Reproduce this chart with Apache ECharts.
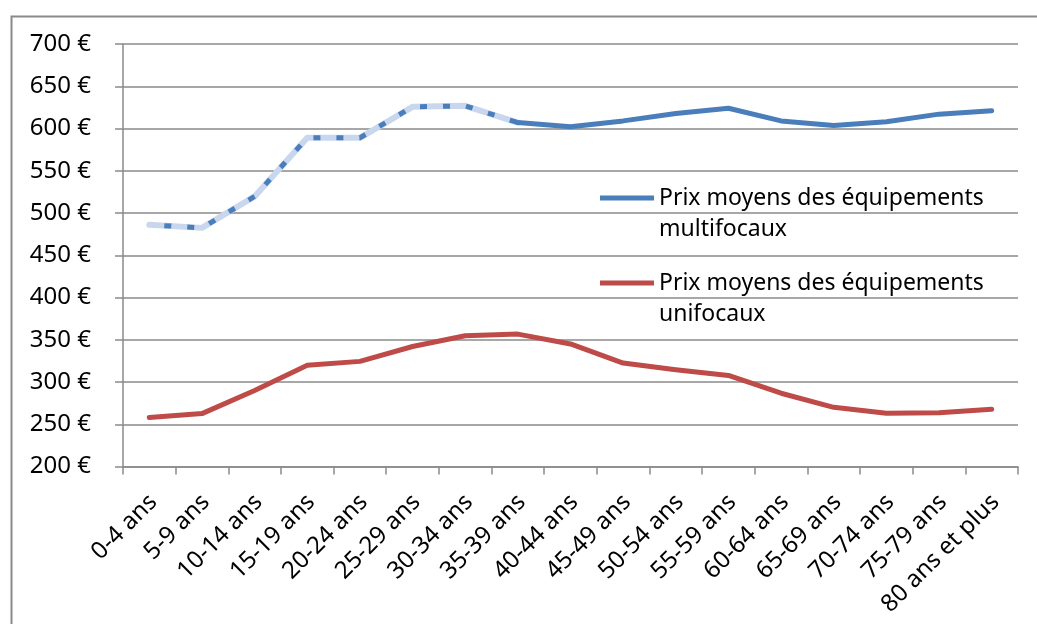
<!DOCTYPE html>
<html>
<head>
<meta charset="utf-8">
<script src="https://cdn.jsdelivr.net/npm/echarts@6/dist/echarts.min.js"></script>
<style>
html,body{margin:0;padding:0;background:#fff;}
#chart{width:1037px;height:624px;}
</style>
</head>
<body>
<div id="chart"></div>
<script>
const categories = ['0-4 ans','5-9 ans','10-14 ans','15-19 ans','20-24 ans','25-29 ans','30-34 ans','35-39 ans','40-44 ans','45-49 ans','50-54 ans','55-59 ans','60-64 ans','65-69 ans','70-74 ans','75-79 ans','80 ans et plus'];
const multifocaux = [486, 482.4, 519.6, 589, 589, 625.6, 626.8, 607, 602, 609, 617.7, 624, 609, 603.5, 608, 617, 621];
const unifocaux = [258, 262.6, 290, 319.7, 324.4, 342, 354.7, 356.7, 345, 322.4, 314.5, 307.8, 286.7, 270, 263, 263.7, 267.8];
const yTicks = [200, 250, 300, 350, 400, 450, 500, 550, 600, 650, 700];
const NAME_MULTI = 'Prix moyens des équipements multifocaux';
const NAME_UNI = 'Prix moyens des équipements unifocaux';
const dashedEnd = 7; // last index of the light/dashed part

const FONT = 'Noto Sans';
const firstPart = multifocaux.map((v, i) => i <= dashedEnd ? v : '-');
const secondPart = multifocaux.map((v, i) => i >= dashedEnd ? v : '-');

const chart = echarts.init(document.getElementById('chart'), null, {renderer: 'canvas'});

function legendCfg(name, top) {
  return {
    data: [name],
    left: 600,
    top: top,
    orient: 'vertical',
    padding: 0,
    itemWidth: 54,
    itemHeight: 5,
    icon: 'rect',
    selectedMode: false,
    formatter: n => ' \n' + n.replace(' équipements ', ' équipements\n'),
    textStyle: {fontFamily: FONT, fontSize: 23, color: '#000', lineHeight: 31}
  };
}

chart.setOption({
  backgroundColor: '#fff',
  animation: false,
  graphic: [{
    type: 'rect', left: 9, top: 14, silent: true,
    shape: {width: 1100, height: 700},
    style: {fill: 'none', stroke: '#8a8a8a', lineWidth: 2}
  }],
  grid: {left: 123, right: 19, top: 44, bottom: 157.5, containLabel: false},
  legend: [legendCfg(NAME_MULTI, 151.5), legendCfg(NAME_UNI, 236.5)],
  xAxis: {
    type: 'category',
    data: categories,
    boundaryGap: true,
    axisLine: {lineStyle: {color: '#8a8a8a', width: 1.5}},
    axisTick: {show: true, length: 8, alignWithLabel: false, lineStyle: {color: '#8a8a8a', width: 1.5}},
    axisLabel: {
      rotate: 45, margin: 28, interval: 0, fontFamily: FONT, fontSize: 24, color: '#000',
      formatter: v => '{a|' + v + '}',
      rich: {a: {fontFamily: FONT, fontSize: 24, color: '#000', padding: [11, 0, 0, 0]}}
    }
  },
  yAxis: {
    type: 'value',
    min: yTicks[0],
    max: yTicks[yTicks.length - 1],
    interval: yTicks[1] - yTicks[0],
    axisLine: {show: true, lineStyle: {color: '#8a8a8a', width: 1.5}},
    axisTick: {show: true, length: 8, lineStyle: {color: '#8a8a8a', width: 1.5}},
    splitLine: {lineStyle: {color: '#8a8a8a', width: 1.5}},
    axisLabel: {margin: 32, fontFamily: FONT, fontSize: 24, color: '#000', formatter: v => v + '\u00a0€'}
  },
  series: [
    {
      name: NAME_MULTI, type: 'line', data: secondPart, showSymbol: false, symbol: 'none',
      itemStyle: {color: '#4a7ebb'},
      lineStyle: {color: '#4a7ebb', width: 5, cap: 'round', join: 'round'}, z: 3
    },
    {
      name: 'light', type: 'line', data: firstPart, showSymbol: false, symbol: 'none',
      itemStyle: {color: '#c9d7ee'},
      lineStyle: {color: '#c9d7ee', width: 6, cap: 'round', join: 'round'}, z: 2
    },
    {
      name: 'dash', type: 'line', data: firstPart, showSymbol: false, symbol: 'none',
      itemStyle: {color: '#4a7ebb'},
      lineStyle: {color: '#4a7ebb', width: 5, type: [7, 16], dashOffset: 8, cap: 'butt', join: 'round'}, z: 3
    },
    {
      name: NAME_UNI, type: 'line', data: unifocaux, showSymbol: false, symbol: 'none',
      itemStyle: {color: '#be4b48'},
      lineStyle: {color: '#be4b48', width: 5, cap: 'round', join: 'round'}, z: 3
    }
  ]
});
</script>
</body>
</html>
